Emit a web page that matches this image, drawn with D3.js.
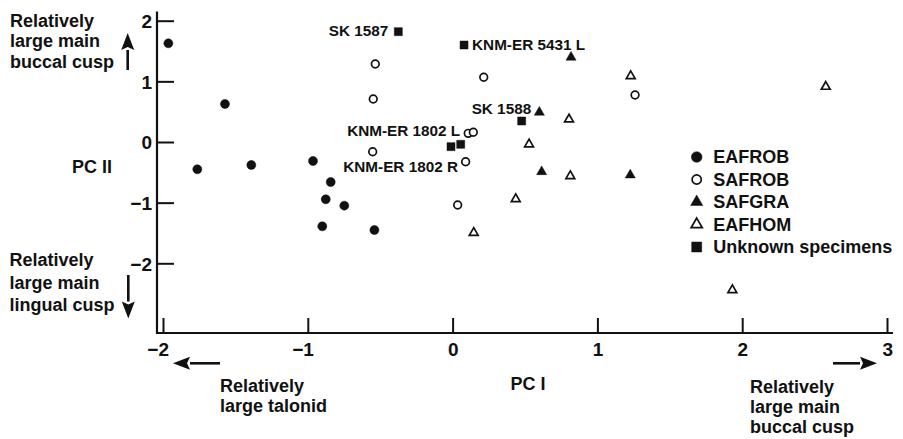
<!DOCTYPE html>
<html>
<head>
<meta charset="utf-8">
<script src="https://cdn.jsdelivr.net/npm/d3@7"></script>
<style>
  html, body { margin: 0; padding: 0; background: #fff; }
  svg { display: block; }
  text { font-family: "Liberation Sans", Arial, Helvetica, sans-serif; font-weight: bold; fill: #111; }
</style>
</head>
<body>
<svg id="chart" width="903" height="439"></svg>
<script>
// Principal component scores of the molar samples (PC I, PC II)
const eafrobPC1 = [-1.963, -1.572, -1.763, -1.390, -0.964, -0.842, -0.876, -0.748, -0.900, -0.540];
const eafrobPC2 = [ 1.627,  0.627, -0.450, -0.379, -0.313, -0.660, -0.945, -1.050, -1.390, -1.451];

const safrobPC1 = [-0.534, -0.548, -0.552, 0.215, 1.260, 0.108, 0.143, 0.090, 0.035];
const safrobPC2 = [ 1.286,  0.709, -0.160, 1.067, 0.775, 0.143, 0.160, -0.325, -1.039];

const safgraPC1 = [0.818, 0.599, 0.615, 1.227];
const safgraPC2 = [1.397, 0.490, -0.490, -0.544];

const eafhomPC1 = [1.230, 0.804, 0.528, 0.813, 0.436, 0.146, 2.577, 1.932];
const eafhomPC2 = [1.088, 0.374, -0.038, -0.561, -0.940, -1.496, 0.912, -2.440];

const unknownNames = ["SK 1587", "KNM-ER 5431 L", "SK 1588", "KNM-ER 1802 L", "KNM-ER 1802 R"];
const unknownPC1 = [-0.375, 0.079, 0.477, 0.056, -0.011];
const unknownPC2 = [ 1.819, 1.599, 0.346, -0.038, -0.077];

const groupNames = ["EAFROB", "SAFROB", "SAFGRA", "EAFHOM", "Unknown specimens"];
const xTickValues = [-2, -1, 0, 1, 2, 3];
const yTickValues = [-2, -1, 0, 1, 2];

// ---- drawing ----
const svg = d3.select("#chart");
const ink = "#111";

const x = d3.scaleLinear().domain([-2, 3]).range([163, 887]);
const y = d3.scaleLinear().domain([-2, 2]).range([263.3, 20.7]);

const axisX0 = 157, axisY0 = 333;

// marker styles per group
const groups = [
  { name: groupNames[0], xs: eafrobPC1, ys: eafrobPC2, type: d3.symbolCircle,   filled: true,  size: 64,  legendSize: 90 },
  { name: groupNames[1], xs: safrobPC1, ys: safrobPC2, type: d3.symbolCircle,   filled: false, size: 46,  legendSize: 66 },
  { name: groupNames[2], xs: safgraPC1, ys: safgraPC2, type: d3.symbolTriangle, filled: true,  size: 44,  legendSize: 64 },
  { name: groupNames[3], xs: eafhomPC1, ys: eafhomPC2, type: d3.symbolTriangle, filled: false, size: 34,  legendSize: 54 },
  { name: groupNames[4], xs: unknownPC1, ys: unknownPC2, type: d3.symbolSquare, filled: true,  size: 64,  legendSize: 100 }
];

function styleMarker(sel, g) {
  sel.attr("fill", g.filled ? ink : "#fff")
     .attr("stroke", ink)
     .attr("stroke-width", g.filled ? 0.5 : 1.7);
}

// axes
const fmt = d3.format("d");
const xAxis = d3.axisBottom(x).tickValues(xTickValues).tickFormat(fmt).tickSize(-15).tickSizeOuter(0);
const yAxis = d3.axisLeft(y).tickValues(yTickValues).tickFormat(fmt).tickSize(-17).tickSizeOuter(0);

const gx = svg.append("g").attr("transform", `translate(0,${axisY0})`).call(xAxis);
const gy = svg.append("g").attr("transform", `translate(${axisX0},0)`).call(yAxis);

[gx, gy].forEach(g => {
  g.select(".domain").remove();
  g.selectAll(".tick line").attr("stroke", ink).attr("stroke-width", 2);
  g.selectAll(".tick text")
    .attr("fill", ink)
    .style("font-size", "19px")
    .style("font-family", "\"Liberation Sans\", Arial, sans-serif")
    .style("font-weight", "bold");
});
gx.selectAll(".tick text").attr("text-anchor", "end").attr("x", 5.5).attr("y", 23).attr("dy", 0);
gy.selectAll(".tick text").attr("text-anchor", "end").attr("x", -5).attr("dy", "0.36em");

// axis lines
svg.append("line").attr("x1", axisX0).attr("x2", axisX0).attr("y1", 11.5).attr("y2", axisY0 + 1)
  .attr("stroke", ink).attr("stroke-width", 2.2);
svg.append("line").attr("x1", axisX0 - 1).attr("x2", 893).attr("y1", axisY0).attr("y2", axisY0)
  .attr("stroke", ink).attr("stroke-width", 2.2);

// data points
const plot = svg.append("g");
groups.forEach(g => {
  const pts = g.xs.map((v, i) => [v, g.ys[i]]);
  plot.selectAll(null).data(pts).enter().append("path")
    .attr("d", d3.symbol().type(g.type).size(g.size))
    .attr("transform", d => `translate(${x(d[0])},${y(d[1])})`)
    .call(styleMarker, g);
});

// specimen labels
const labelPlacement = [
  { dx: -10, dy: 4.5, anchor: "end" },
  { dx: 8, dy: 4.5, anchor: "start" },
  { dx: 9.5, dy: -7.5, anchor: "end" },
  { dx: -0.5, dy: -8.5, anchor: "end" },
  { dx: 7, dy: 25, anchor: "end" }
];
svg.append("g").selectAll("text").data(unknownNames).enter().append("text")
  .attr("x", (d, i) => x(unknownPC1[i]) + labelPlacement[i].dx)
  .attr("y", (d, i) => y(unknownPC2[i]) + labelPlacement[i].dy)
  .attr("text-anchor", (d, i) => labelPlacement[i].anchor)
  .style("font-size", "15.3px")
  .text(d => d);

// legend
const legend = svg.append("g").attr("transform", "translate(696.7,157)");
groups.forEach((g, i) => {
  const row = legend.append("g").attr("transform", `translate(0,${i * 22.5})`);
  row.append("path").attr("d", d3.symbol().type(g.type).size(g.legendSize)).call(styleMarker, g);
  row.append("text").attr("x", 16.5).attr("y", 6.3).style("font-size", "18px").text(g.name);
});

// axis titles
svg.append("text").attr("x", 92).attr("y", 173).attr("text-anchor", "middle")
  .style("font-size", "18px").text("PC II");
svg.append("text").attr("x", 528).attr("y", 390).attr("text-anchor", "middle")
  .style("font-size", "18px").text("PC I");

// direction notes
function note(lines, x0, y0, step) {
  const t = svg.append("text").style("font-size", "18px");
  lines.forEach((s, i) => t.append("tspan").attr("x", x0).attr("y", y0 + i * step).text(s));
}
note(["Relatively", "large main", "buccal cusp"], 10, 26.5, 20.8);
note(["Relatively", "large main", "lingual cusp"], 9.5, 266, 22.5);
note(["Relatively", "large talonid"], 220, 391.5, 20);
note(["Relatively", "large main", "buccal cusp"], 750, 393.3, 20);

// arrows
function arrow(x1, y1, x2, y2) {
  const ang = Math.atan2(y2 - y1, x2 - x1);
  const headLen = 17, headHalf = 6.5;
  const bx = x2 - headLen * Math.cos(ang), by = y2 - headLen * Math.sin(ang);
  svg.append("line").attr("x1", x1).attr("y1", y1).attr("x2", bx).attr("y2", by)
    .attr("stroke", ink).attr("stroke-width", 2.6);
  const px = -Math.sin(ang) * headHalf, py = Math.cos(ang) * headHalf;
  svg.append("path")
    .attr("d", `M${x2},${y2}L${bx + px},${by + py}L${bx + 3 * Math.cos(ang)},${by + 3 * Math.sin(ang)}L${bx - px},${by - py}Z`)
    .attr("fill", ink);
}
arrow(127.7, 70, 127.7, 33);
arrow(128.3, 275, 128.3, 318.5);
arrow(220, 363.3, 173, 363.3);
arrow(833, 363.3, 877, 363.3);
</script>
</body>
</html>
